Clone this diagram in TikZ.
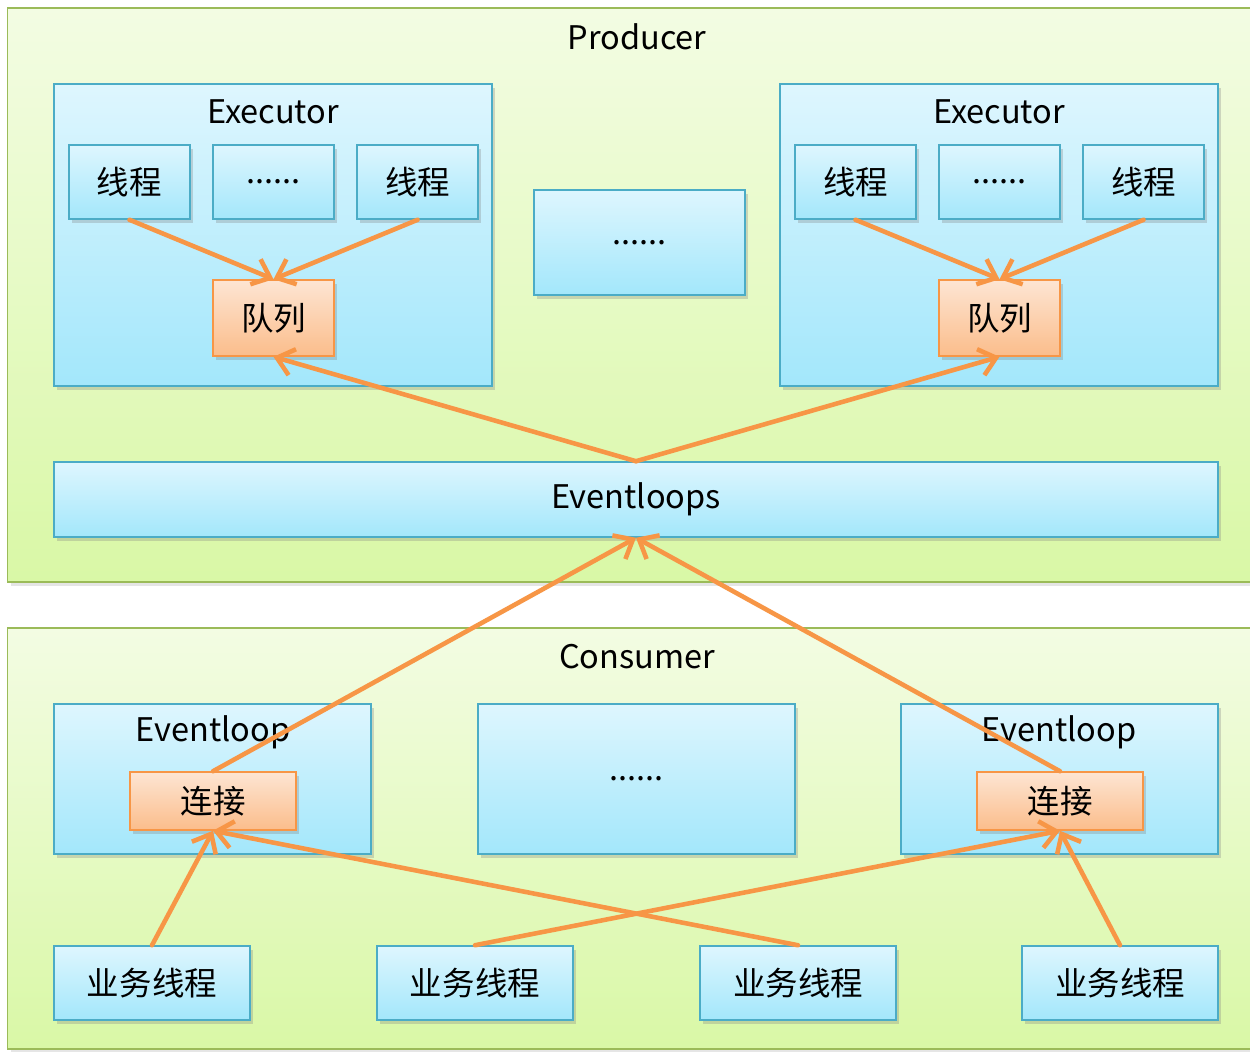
\documentclass[tikz,border=0pt]{standalone}
\usepackage{fontspec}
\setmainfont{Noto Sans CJK SC}
\usepackage{tikz}
\usetikzlibrary{arrows.meta, shadows, positioning}

\definecolor{boxline}{HTML}{4BACC6}
\definecolor{boxtop}{HTML}{DEF6FE}
\definecolor{boxbot}{HTML}{A3E7FB}
\definecolor{qline}{HTML}{F79646}
\definecolor{qtop}{HTML}{FDE5D3}
\definecolor{qbot}{HTML}{FBBD8B}
\definecolor{grline}{HTML}{9BBB59}
\definecolor{grtop}{HTML}{F3FCE3}
\definecolor{grbot}{HTML}{D9F8A6}

\tikzset{
  every node/.style={font=\fontsize{18.5}{22}\selectfont, text=black},
  outer/.style={rectangle, draw=grline, line width=0.9pt, top color=grtop, bottom color=grbot,
    drop shadow={shadow xshift=0.6mm, shadow yshift=-0.8mm, opacity=0.2}},
  blue/.style={rectangle, draw=boxline, line width=0.9pt, top color=boxtop, bottom color=boxbot,
    drop shadow={shadow xshift=0.6mm, shadow yshift=-0.8mm, opacity=0.3}},
  queue/.style={rectangle, draw=qline, line width=0.9pt, top color=qtop, bottom color=qbot,
    drop shadow={shadow xshift=0.6mm, shadow yshift=-0.8mm, opacity=0.3}},
  thread/.style={blue, minimum width=2.42cm, minimum height=1.48cm},
  worker/.style={blue, minimum width=3.92cm, minimum height=1.48cm},
  link/.style={draw=qline, line width=2.6pt, line cap=round,
    -{Straight Barb[length=3.2mm, width=5.4mm, line width=2.6pt]}}
}

\begin{document}
\begin{tikzpicture}[x=0.02cm, y=-0.02cm]
  \clip (0,0) rectangle (1250,1051);
  \fill[white] (0,0) rectangle (1250,1051);

  % producer side
  \node[outer, minimum width=25.1cm, minimum height=11.48cm] (producer) at (635,295) {};
  \node (prodlabel) at (637,37) {Producer};

  \node[blue, minimum width=8.76cm, minimum height=6.04cm] (exec1) at (273,235) {};
  \node (exec1label) at (273,112) {Executor};
  \node[thread] (t11) at (129.5,182) {线程};
  \node[thread, right=0.43cm of t11] (t12) {......};
  \node[thread, right=0.43cm of t12] (t13) {线程};
  \node[queue, minimum width=2.42cm, minimum height=1.52cm] (q1) at (273.5,318) {队列};

  \node[blue, minimum width=4.22cm, minimum height=2.1cm] (mid1) at (639.5,242.5) {......};

  \node[blue, minimum width=8.76cm, minimum height=6.04cm] (exec2) at (999,235) {};
  \node (exec2label) at (999,112) {Executor};
  \node[thread] (t21) at (855.5,182) {线程};
  \node[thread, right=0.43cm of t21] (t22) {......};
  \node[thread, right=0.43cm of t22] (t23) {线程};
  \node[queue, minimum width=2.42cm, minimum height=1.52cm] (q2) at (999.5,318) {队列};

  \node[blue, minimum width=23.28cm, minimum height=1.5cm] (loops) at (636,499.5) {Eventloops};

  % consumer side
  \node[outer, minimum width=25.1cm, minimum height=8.42cm] (consumer) at (635,838.5) {};
  \node (conslabel) at (637,657) {Consumer};

  \node[blue, minimum width=6.34cm, minimum height=3cm] (el1) at (212.5,779) {};
  \node (el1label) at (213,732) {Eventloop};
  \node[queue, minimum width=3.32cm, minimum height=1.16cm] (c1) at (213,801) {连接};

  \node[blue, minimum width=6.34cm, minimum height=3cm] (mid2) at (636.5,779) {......};

  \node[blue, minimum width=6.34cm, minimum height=3cm] (el2) at (1059.5,779) {};
  \node (el2label) at (1059,732) {Eventloop};
  \node[queue, minimum width=3.32cm, minimum height=1.16cm] (c2) at (1060,801) {连接};

  \node[worker] (b1) at (152,983) {业务线程};
  \node[worker] (b2) at (475,983) {业务线程};
  \node[worker] (b3) at (798,983) {业务线程};
  \node[worker] (b4) at (1120,983) {业务线程};

  % arrows
  \foreach \q/\a/\b in {q1/t11/t13, q2/t21/t23}{
    \draw[link] (\a.south) -- (\q.north);
    \draw[link] (\b.south) -- (\q.north);
  }
  \draw[link] (loops.north) -- (q1.south);
  \draw[link] (loops.north) -- (q2.south);
  \draw[link] (c1.north) -- (loops.south);
  \draw[link] (c2.north) -- (loops.south);
  \draw[link] (b1.north) -- (c1.south);
  \draw[link] (b3.north) -- (c1.south);
  \draw[link] (b2.north) -- (c2.south);
  \draw[link] (b4.north) -- (c2.south);
\end{tikzpicture}
\end{document}
